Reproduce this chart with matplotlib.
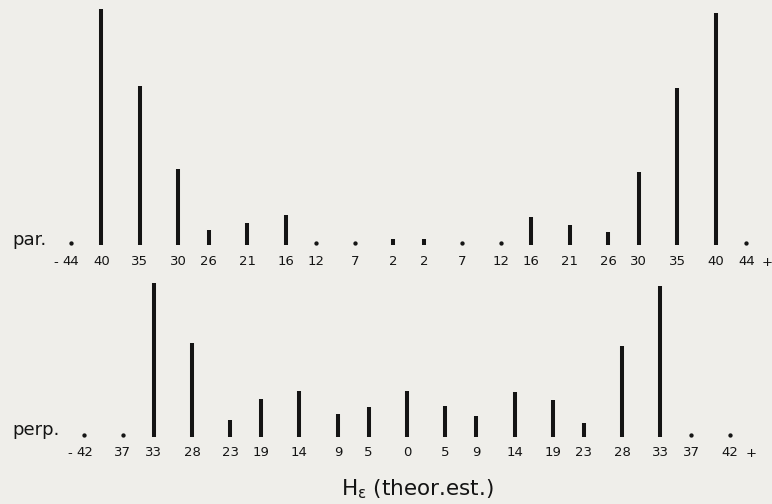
import matplotlib
matplotlib.use("Agg")
import matplotlib.pyplot as plt

# Stark components (signed displacement) and relative intensities
par_pos = [-44, -40, -35, -30, -26, -21, -16, -12, -7, -2, 2, 7, 12, 16, 21, 26, 30, 35, 40, 44]
par_int = [0, 236, 159, 76, 15, 22, 30, 0, 0, 6, 6, 0, 0, 28, 20, 13, 73, 157, 232, 0]
par_lab = ["44", "40", "35", "30", "26", "21", "16", "12", "7", "2", "2", "7", "12", "16", "21", "26", "30", "35", "40", "44"]

perp_pos = [-42, -37, -33, -28, -23, -19, -14, -9, -5, 0, 5, 9, 14, 19, 23, 28, 33, 37, 42]
perp_int = [0, 0, 154, 94, 17, 38, 46, 23, 30, 46, 31, 21, 45, 37, 14, 91, 151, 0, 0]
perp_lab = ["42", "37", "33", "28", "23", "19", "14", "9", "5", "0", "5", "9", "14", "19", "23", "28", "33", "37", "42"]

W, H = 772, 504
bg = "#efeeea"
ink = "#141414"
fig = plt.figure(figsize=(W / 100, H / 100), dpi=100, facecolor=bg)

def make_panel(pos, inten, labels, base_px, top_px, center_px, scale, name, name_y_off, lab_off):
    ax = fig.add_axes([0, (H - base_px) / H, 1, (base_px - top_px) / H])
    ax.set_facecolor(bg)
    ax.set_xlim(-center_px / scale, (W - center_px) / scale)
    ax.set_ylim(0, base_px - top_px)
    for s in ax.spines.values():
        s.set_visible(False)
    ax.set_yticks([])
    ax.set_xticks(pos, labels=labels)
    ax.tick_params(axis="x", length=0, pad=lab_off, labelsize=9.5, labelcolor=ink)
    lines_x = [p for p, v in zip(pos, inten) if v > 0]
    lines_h = [v for v in inten if v > 0]
    dots_x = [p for p, v in zip(pos, inten) if v == 0]
    ax.vlines(lines_x, 0, lines_h, colors=ink, linewidth=2.9, capstyle="butt")
    ax.plot(dots_x, [2.5] * len(dots_x), "o", color=ink, markersize=2.1, linestyle="none")
    ypx = -(lab_off * 1.389 + 1)
    ax.text(pos[0] - 1.9, ypx, "-", ha="center", va="top", fontsize=9.5, color=ink)
    ax.text(pos[-1] + 2.75, ypx, "+", ha="center", va="top", fontsize=9.5, color=ink)
    ax.text(-center_px / scale + 12 / scale, name_y_off, name, ha="left", va="center",
            fontsize=13, color=ink)
    return ax

ax1 = make_panel(par_pos, par_int, par_lab, 245, 0, 408.5, 7.68, "par.", 5, 7)
ax2 = make_panel(perp_pos, perp_int, perp_lab, 437, 270, 407, 7.68, "perp.", 7, 6.5)

fig.text(417 / W, 1 - 489 / H, r"H$_\mathregular{ε}$ (theor.est.)", ha="center", va="center",
         fontsize=15.5, color=ink)

fig.savefig("out.png", dpi=100, facecolor=bg)
